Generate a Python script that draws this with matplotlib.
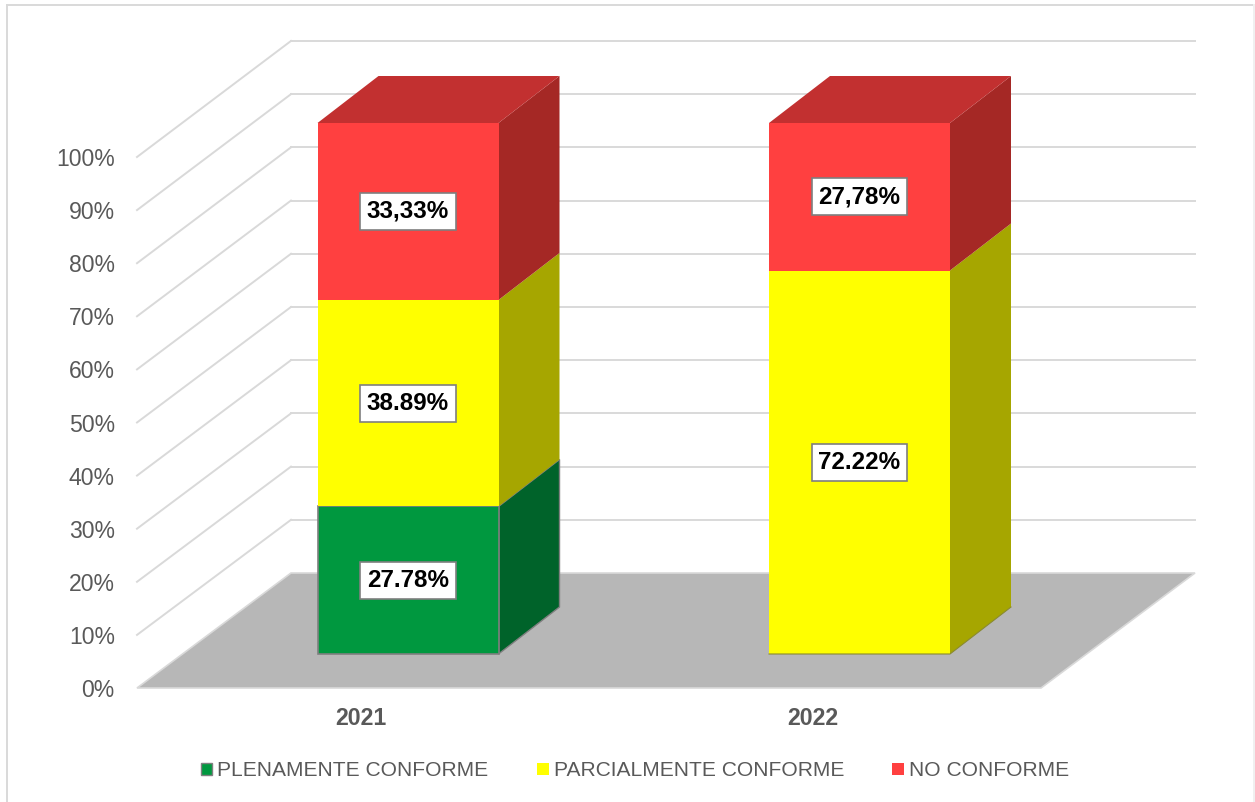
import matplotlib
matplotlib.use("Agg")
import matplotlib.pyplot as plt
from matplotlib.lines import Line2D
from matplotlib.patches import Patch, Polygon

plt.rcParams['font.family'] = ['Liberation Sans', 'DejaVu Sans']

# data
years = ["2021", "2022"]
series_names = ["PLENAMENTE CONFORME", "PARCIALMENTE CONFORME", "NO CONFORME"]
plenamente = [27.78, 0]
parcialmente = [38.89, 72.22]
no_conforme = [33.33, 27.78]
plenamente_labels = ["27.78%", ""]
parcialmente_labels = ["38.89%", "72.22%"]
no_conforme_labels = ["33,33%", "27,78%"]
y_ticks = [0, 10, 20, 30, 40, 50, 60, 70, 80, 90, 100]

front_colors = ["#00983F", "#FFFF00", "#FF4040"]
side_colors = ["#00632A", "#A6A600", "#A52825"]
top_color = "#C23030"
grid_color = "#D9D9D9"
text_color = "#595959"

W, H = 1255, 802
BASE = 688          # pixel row of 0% on the front edge
PX_PER_PCT = 5.31

fig = plt.figure(figsize=(W / 100, H / 100), dpi=100, facecolor="white")
ax = fig.add_axes([137 / W, 1 - BASE / H, (1195 - 137) / W, (BASE - 41) / H])
ax.set_xlim(137, 1195)
ax.set_ylim(0, (BASE - 41) / PX_PER_PCT)
for s in ax.spines.values():
    s.set_visible(False)

# oblique offsets, x in pixels and y in percent units
wall_dx = 154
wall_dy = 115 / PX_PER_PCT
front_dx = 47
front_dy = 34 / PX_PER_PCT
depth_dx = 61
depth_dy = 47 / PX_PER_PCT
bar_width = 181
cat_x = [361, 812.5]


def wall_y(p):
    return p * 1.002 + wall_dy


# walls
for p in y_ticks[1:]:
    ax.plot([137, 137 + wall_dx], [p, wall_y(p)], color=grid_color, lw=1.4, zorder=1, clip_on=False)
    ax.plot([137 + wall_dx, 1195], [wall_y(p), wall_y(p)], color=grid_color, lw=1.4, zorder=1, clip_on=False)

# floor
ax.add_patch(Polygon([(137, 0), (137 + wall_dx, wall_dy), (1195, wall_dy), (1195 - wall_dx, 0)],
                     facecolor="#B7B7B7", edgecolor=grid_color, lw=1.2, zorder=2, clip_on=False))

# stacked bars
stack = [plenamente, parcialmente, no_conforme]
stack_labels = [plenamente_labels, parcialmente_labels, no_conforme_labels]
for i in range(len(years)):
    x0 = cat_x[i] + front_dx - bar_width / 2
    x1 = x0 + bar_width
    bottom = front_dy
    for j, values in enumerate(stack):
        v = values[i]
        if v == 0:
            continue
        top = bottom + v
        edge = "#7F7F7F" if j == 0 else "none"
        ax.add_patch(Polygon([(x1, bottom), (x1 + depth_dx, bottom + depth_dy),
                              (x1 + depth_dx, top + depth_dy), (x1, top)],
                             facecolor=side_colors[j], edgecolor=edge, lw=1, zorder=3, clip_on=False))
        ax.bar(x0, v, width=bar_width, bottom=bottom, align="edge", color=front_colors[j],
               edgecolor=edge, lw=1.2, zorder=4, clip_on=False)
        if j == 1 and bottom == front_dy:
            ax.plot([x0, x1, x1 + depth_dx], [bottom, bottom, bottom + depth_dy], color="#8A8A30",
                    lw=0.8, zorder=4)
        ax.text((x0 + x1) / 2, bottom + v / 2, stack_labels[j][i], ha="center", va="center",
                fontsize=17.4, fontweight="bold", color="black", zorder=6,
                bbox=dict(boxstyle="square,pad=0.28", facecolor="white", edgecolor="#7F7F7F", lw=1.2))
        bottom = top
    ax.add_patch(Polygon([(x0, bottom), (x1, bottom), (x1 + depth_dx, bottom + depth_dy),
                          (x0 + depth_dx, bottom + depth_dy)],
                         facecolor=top_color, edgecolor="none", zorder=3, clip_on=False))

# axes text
ax.set_yticks(y_ticks)
ax.set_yticklabels([f"{p}%" for p in y_ticks], fontsize=16.6, color=text_color)
ax.set_xticks(cat_x)
ax.set_xticklabels(years, fontsize=16.7, fontweight="bold", color=text_color)
ax.tick_params(axis="y", length=0, pad=16)
ax.tick_params(axis="x", length=0, pad=14)

# legend
handles = [Patch(facecolor=front_colors[0], edgecolor="#7F7F7F", lw=1),
           Patch(facecolor=front_colors[1], edgecolor="none"),
           Patch(facecolor=front_colors[2], edgecolor="none")]
fig.legend(handles, series_names, loc="center", bbox_to_anchor=(635 / W, 1 - 771 / H), ncol=3,
           frameon=False, fontsize=15.15, labelcolor=text_color, handlelength=0.55, handleheight=0.55,
           handletextpad=0.24, columnspacing=2.3)

# outer chart frame
fig.add_artist(Line2D([7 / W, 7 / W], [0, 1 - 5 / H], color=grid_color, lw=1.4))
fig.add_artist(Line2D([7 / W, 1254 / W], [1 - 5 / H, 1 - 5 / H], color=grid_color, lw=1.4))
fig.add_artist(Line2D([1254 / W, 1254 / W], [0, 1 - 5 / H], color="#F0F0F0", lw=1.4))

fig.savefig("out.png", dpi=100)
